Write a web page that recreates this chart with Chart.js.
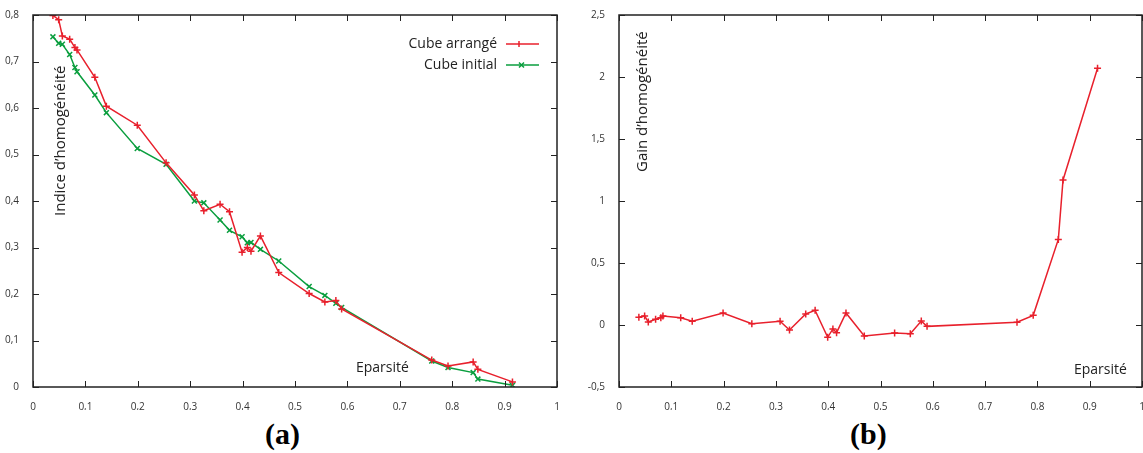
<!DOCTYPE html>
<html>
<head>
<meta charset="utf-8">
<script src="https://cdn.jsdelivr.net/npm/chart.js@4.4.1/dist/chart.umd.min.js"></script>
<style>
  html, body { margin: 0; padding: 0; background: #fff; overflow: hidden; width: 1143px; height: 453px; }
  .box { position: absolute; top: 0; }
  .txt { position: absolute; font-family: "Open Sans", sans-serif; color: #222; white-space: nowrap; }
  .rot { transform: rotate(-90deg); transform-origin: left top; }
  .cap { position: absolute; font-family: "Liberation Serif", serif; font-weight: bold; font-size: 30px; color: #000; }
</style>
</head>
<body>
<div class="box" style="left:0;width:580px;height:410px"><canvas id="chartA"></canvas></div>
<div class="box" style="left:586px;width:580px;height:410px"><canvas id="chartB"></canvas></div>

<div class="txt rot" style="left:49px;top:216px;font-size:15px">Indice d’homogénéité</div>
<div class="txt" style="left:356px;top:357px;font-size:14px">Eparsité</div>
<div class="txt rot" style="left:631px;top:172px;font-size:15px">Gain d’homogénéité</div>
<div class="txt" style="left:1074px;top:359px;font-size:14px">Eparsité</div>
<div class="cap" style="left:265px;top:417px">(a)</div>
<div class="cap" style="left:850px;top:417px">(b)</div>

<script>
const eparsite = [0.038, 0.049, 0.056, 0.070, 0.080, 0.084, 0.118, 0.140, 0.199, 0.254,
  0.308, 0.326, 0.357, 0.375, 0.399, 0.409, 0.416, 0.434, 0.469, 0.527,
  0.557, 0.578, 0.589, 0.761, 0.792, 0.840, 0.849, 0.915];
const cubeArrange = [0.799, 0.790, 0.755, 0.748, 0.730, 0.725, 0.666, 0.604, 0.563, 0.482,
  0.413, 0.379, 0.393, 0.377, 0.290, 0.300, 0.292, 0.325, 0.246, 0.201,
  0.183, 0.186, 0.168, 0.058, 0.045, 0.054, 0.038, 0.011];
const cubeInitial = [0.753, 0.739, 0.737, 0.715, 0.687, 0.678, 0.628, 0.590, 0.513, 0.479,
  0.400, 0.396, 0.359, 0.337, 0.323, 0.310, 0.311, 0.296, 0.271, 0.216,
  0.197, 0.180, 0.171, 0.056, 0.042, 0.031, 0.017, 0.0036];
const gain = [0.062, 0.073, 0.024, 0.046, 0.059, 0.073, 0.059, 0.030, 0.097, 0.011,
  0.030, -0.040, 0.089, 0.118, -0.099, -0.032, -0.062, 0.097, -0.089, -0.065,
  -0.070, 0.032, -0.011, 0.022, 0.078, 0.69, 1.17, 2.07];
const legendLabels = ["Cube arrangé", "Cube initial"];

const RED = "#e8202c";
const GREEN = "#0a9e3e";
const fmt = v => String(Number(v.toFixed(2))).replace(".", ",");
const pts = ys => ys.map((y, i) => ({ x: eparsite[i], y: y }));

// cadre + graduations vers l'intérieur, façon gnuplot
const framePlugin = {
  id: "frame",
  afterDraw(chart) {
    const { ctx, chartArea: a, scales } = chart;
    ctx.save();
    ctx.strokeStyle = "#222";
    ctx.lineWidth = 1.5;
    ctx.strokeRect(a.left, a.top, a.right - a.left, a.bottom - a.top);
    ctx.lineWidth = 1;
    scales.x.ticks.forEach(t => {
      const px = Math.round(scales.x.getPixelForValue(t.value)) + 0.5;
      ctx.beginPath();
      ctx.moveTo(px, a.bottom); ctx.lineTo(px, a.bottom - 6);
      ctx.moveTo(px, a.top); ctx.lineTo(px, a.top + 6);
      ctx.stroke();
    });
    scales.y.ticks.forEach(t => {
      const py = Math.round(scales.y.getPixelForValue(t.value)) + 0.5;
      ctx.beginPath();
      ctx.moveTo(a.left, py); ctx.lineTo(a.left + 6, py);
      ctx.moveTo(a.right, py); ctx.lineTo(a.right - 6, py);
      ctx.stroke();
    });
    ctx.restore();
  }
};

// légende : texte à gauche, échantillon à droite
const legendPlugin = {
  id: "legendRight",
  afterDraw(chart) {
    if (chart.canvas.id !== "chartA") return;
    const { ctx } = chart;
    ctx.save();
    ctx.font = "14px 'Open Sans'";
    ctx.fillStyle = "#222";
    ctx.textAlign = "right";
    ctx.textBaseline = "middle";
    chart.data.datasets.forEach((ds, i) => {
      const y = 44 + i * 21;
      ctx.fillText(legendLabels[i], 497, y);
      ctx.strokeStyle = ds.borderColor;
      ctx.lineWidth = 1.5;
      ctx.beginPath();
      ctx.moveTo(506, y); ctx.lineTo(539, y);
      ctx.stroke();
      ctx.beginPath();
      if (i === 0) {
        ctx.moveTo(519, y - 3); ctx.lineTo(519, y + 3);
      } else {
        ctx.moveTo(519, y - 2.5); ctx.lineTo(524, y + 2.5);
        ctx.moveTo(519, y + 2.5); ctx.lineTo(524, y - 2.5);
      }
      ctx.stroke();
    });
    ctx.restore();
  }
};

const tickFont = { family: "'Open Sans'", size: 10 };

const makeOptions = (ymin, ymax, ystep) => ({
  responsive: true,
  maintainAspectRatio: false,
  animation: false,
  layout: { autoPadding: false, padding: { top: 15, right: 23, left: 0, bottom: 0 } },
  plugins: { legend: { display: false }, tooltip: { enabled: false } },
  scales: {
    x: {
      type: "linear", min: 0, max: 1,
      afterFit: s => { s.height = 23; },
      grid: { display: false },
      border: { display: false },
      ticks: { stepSize: 0.1, font: tickFont, color: "#333", padding: 6, maxRotation: 0, callback: fmt }
    },
    y: {
      type: "linear", min: ymin, max: ymax,
      afterFit: s => { s.width = 33; },
      grid: { display: false },
      border: { display: false },
      ticks: { stepSize: ystep, font: tickFont, color: "#333", padding: 6, callback: fmt }
    }
  }
});

const lineDs = (label, data, color, style) => ({
  label: label,
  data: data,
  showLine: true,
  borderColor: color,
  backgroundColor: color,
  borderWidth: 1.5,
  pointStyle: style,
  pointRadius: 3.5,
  pointBorderWidth: 1.5
});

new Chart(document.getElementById("chartA"), {
  type: "scatter",
  data: {
    datasets: [
      lineDs(legendLabels[0], pts(cubeArrange), RED, "cross"),
      lineDs(legendLabels[1], pts(cubeInitial), GREEN, "crossRot")
    ]
  },
  options: makeOptions(0, 0.8, 0.1),
  plugins: [framePlugin, legendPlugin]
});

const optB = makeOptions(-0.5, 2.5, 0.5);
optB.layout.padding.right = 24;
new Chart(document.getElementById("chartB"), {
  type: "scatter",
  data: { datasets: [lineDs("Gain", pts(gain), RED, "cross")] },
  options: optB,
  plugins: [framePlugin]
});
</script>
</body>
</html>
